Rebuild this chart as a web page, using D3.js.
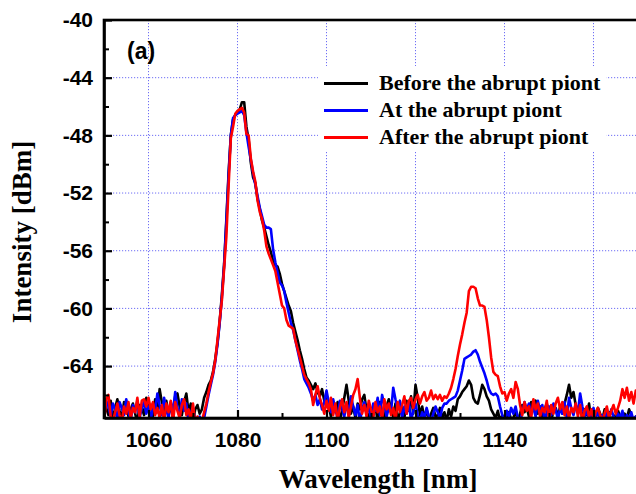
<!DOCTYPE html>
<html>
<head>
<meta charset="utf-8">
<script src="https://cdn.jsdelivr.net/npm/d3@7"></script>
<style>
  body { margin: 0; background: #fff; }
  .tick-label { font-family: "Liberation Sans", Arial, sans-serif; font-weight: bold; font-size: 21px; fill: #000; }
  .axis-title { font-family: "Liberation Serif", "Times New Roman", serif; font-weight: bold; font-size: 27px; fill: #000; }
  .legend-text { font-family: "Liberation Serif", "Times New Roman", serif; font-weight: bold; font-size: 22px; fill: #000; }
</style>
</head>
<body>
<div id="chart"></div>
<script>
var wavelength = d3.range(1050, 1170.001, 0.5);

var seriesNames = ["Before the abrupt piont", "At the abrupt piont", "After the abrupt piont"];
var seriesColors = ["#000000", "#0000ff", "#ff0000"];

var xTicks = [1060, 1080, 1100, 1120, 1140, 1160];
var yTicks = [-40, -44, -48, -52, -56, -60, -64];

var before = [
  // 1050 - 1071.5
  -66.2, -66.9, -67.4, -66.4, -67.8, -66.9, -66.3, -67.1, -67.6, -66.5,
  -66.8, -67.5, -67.0, -66.6, -67.3, -67.9, -66.7, -66.9, -67.4, -66.2,
  -67.0, -66.7, -67.5, -66.3, -67.2, -65.6, -66.5, -67.1, -66.4, -67.3,
  -66.8, -67.6, -66.1, -65.9, -66.8, -67.4, -66.5, -65.9, -67.2, -66.6,
  -67.8, -67.0, -66.7, -67.3,
  // 1072 - 1099.5
  -67.0, -66.2, -65.8, -65.3, -65.0, -64.4, -63.5, -62.4, -60.9, -59.0,
  -56.9, -53.8, -50.6, -48.0, -46.9, -46.6, -46.4, -46.2, -45.7, -45.7,
  -47.4, -48.3, -49.9, -50.9, -51.3, -52.4, -53.1, -53.9, -54.4, -55.0,
  -55.6, -56.1, -56.7, -57.0, -57.1, -57.6, -58.3, -58.8, -59.3, -59.8,
  -60.2, -61.0, -61.6, -62.2, -62.9, -63.5, -64.2, -64.8, -65.0, -65.3,
  -65.6, -65.2, -65.8, -66.1, -65.6, -66.4,
  // 1100 - 1124.5
  -66.0, -66.8, -67.5, -66.9, -67.2, -66.5, -67.8, -67.1, -66.2, -65.3,
  -66.4, -67.3, -66.8, -67.6, -66.6, -67.0, -66.3, -66.0, -67.1, -67.7,
  -66.9, -67.4, -66.7, -67.9, -66.5, -67.2, -67.6, -66.8, -66.3, -67.0,
  -67.5, -66.6, -67.8, -67.2, -66.9, -67.6, -66.4, -67.1, -66.1, -67.3,
  -65.3, -66.2, -67.4, -66.8, -67.6, -67.0, -67.8, -67.3, -66.9, -67.5,
  // 1125 - 1141.5
  -67.4, -66.9, -67.6, -67.2, -67.8, -67.0, -67.5, -66.8, -67.1, -66.3,
  -66.1, -65.8, -65.6, -65.4, -65.0, -65.3, -66.2, -66.5, -66.6, -66.0,
  -65.3, -65.6, -66.1, -66.4, -67.0, -67.3, -67.6, -67.1, -67.8, -67.4,
  -67.9, -67.5, -67.2, -67.7,
  // 1142 - 1170
  -67.6, -67.1, -67.8, -67.3, -66.7, -67.2, -66.9, -67.5, -66.5, -67.0,
  -66.4, -67.3, -66.8, -67.6, -67.0, -66.6, -67.4, -67.8, -67.1, -66.9,
  -67.5, -66.8, -67.3, -66.6, -66.0, -65.3, -66.2, -65.8, -66.7, -67.2,
  -66.9, -67.6, -67.0, -67.4, -66.6, -67.8, -67.2, -67.5, -66.9, -67.3,
  -67.7, -67.0, -67.6, -67.2, -67.9, -67.4, -67.7, -67.1, -67.5, -67.8,
  -67.3, -67.6, -67.0, -67.4, -67.8, -67.5, -67.7
];

var at = [
  // 1050 - 1071.5
  -67.3, -66.4, -66.8, -67.5, -66.6, -67.0, -67.7, -66.5, -66.9, -67.4,
  -66.3, -67.1, -67.8, -66.7, -67.2, -66.4, -67.6, -66.9, -66.5, -67.3,
  -66.8, -67.9, -66.6, -67.1, -65.9, -66.7, -67.4, -66.2, -67.0, -67.6,
  -66.5, -67.2, -65.8, -66.9, -67.5, -66.3, -67.1, -66.6, -67.8, -67.2,
  -66.9, -67.7, -68.0, -67.5,
  // 1072 - 1099.5
  -68.0, -67.6, -66.8, -66.0, -65.3, -64.6, -63.7, -62.5, -61.0, -59.2,
  -57.0, -54.0, -50.8, -48.0, -46.8, -46.6, -46.5, -46.4, -46.3, -46.6,
  -47.8, -48.8, -49.7, -50.6, -51.4, -52.2, -53.0, -53.6, -54.2, -54.4,
  -54.4, -54.5, -55.9, -56.8, -57.5, -58.2, -58.4, -58.8, -59.6, -60.3,
  -61.0, -61.5, -62.2, -62.9, -63.6, -64.2, -64.9, -65.2, -65.5, -65.9,
  -66.4, -66.0, -66.7, -66.3, -67.0, -66.5,
  // 1100 - 1124.5
  -65.7, -66.5, -67.2, -66.3, -67.0, -67.6, -66.4, -66.9, -67.5, -66.6,
  -67.3, -66.1, -66.8, -67.4, -66.7, -67.9, -67.0, -66.5, -67.3, -66.8,
  -67.6, -66.6, -67.1, -66.2, -67.4, -66.0, -66.7, -67.5, -66.9, -67.2,
  -65.5, -66.3, -67.0, -66.4, -67.6, -66.8, -67.3, -66.5, -67.8, -67.1,
  -66.6, -67.4, -67.8, -67.2, -67.6, -66.9, -67.5, -67.9, -67.3, -66.8,
  // 1125 - 1141.5
  -67.2, -67.6, -66.9, -66.6, -66.6, -66.4, -66.3, -66.2, -66.1, -65.7,
  -65.0, -64.3, -63.5, -63.4, -63.3, -63.2, -63.0, -62.9, -63.2, -63.7,
  -64.1, -64.5, -65.0, -65.6, -65.9, -66.0, -65.9, -66.1, -66.8, -67.4,
  -67.8, -67.1, -67.5, -66.9,
  // 1142 - 1170
  -67.3, -66.8, -67.6, -67.9, -67.2, -66.5, -67.0, -66.6, -67.3, -66.9,
  -67.5, -66.4, -67.1, -66.7, -67.8, -67.2, -66.8, -67.4, -66.6, -67.0,
  -67.7, -66.9, -67.3, -66.5, -67.6, -66.2, -66.9, -67.4, -66.7, -67.2,
  -65.9, -66.8, -67.5, -67.0, -67.8, -67.3, -66.9, -67.6, -67.1, -67.8,
  -67.4, -67.9, -67.2, -67.6, -67.0, -67.5, -67.8, -67.3, -67.6, -67.1,
  -67.9, -67.4, -67.7, -67.2, -67.8, -67.5, -67.6
];

var after = [
  // 1050 - 1071.5
  -67.9, -66.3, -66.0, -67.5, -67.8, -67.2, -66.6, -67.4, -67.9, -66.8,
  -67.3, -66.5, -67.6, -66.9, -67.2, -66.2, -67.5, -66.4, -66.3, -66.8,
  -66.2, -67.0, -66.5, -67.4, -66.9, -67.6, -66.7, -67.8, -66.6, -67.2,
  -66.4, -67.9, -66.5, -67.1, -67.6, -66.7, -66.3, -67.4, -67.0, -67.8,
  -66.6, -68.0, -67.5, -68.0,
  // 1072 - 1099.5
  -67.8, -67.2, -66.6, -65.8, -65.1, -64.5, -63.6, -62.2, -60.8, -59.4,
  -57.2, -55.0, -51.5, -48.2, -47.4, -46.5, -46.3, -46.2, -46.1, -46.4,
  -47.9, -48.0, -49.6, -50.5, -51.2, -52.5, -53.3, -53.8, -54.6, -55.7,
  -56.2, -56.6, -57.0, -57.4, -58.2, -59.0, -59.8, -60.0, -60.8, -61.2,
  -61.3, -61.4, -62.2, -62.8, -63.4, -64.0, -64.6, -64.9, -65.2, -65.6,
  -66.7, -66.0, -65.4, -66.2, -66.7, -67.3,
  // 1100 - 1124.5
  -66.4, -67.1, -66.2, -67.4, -66.6, -67.8, -66.9, -66.3, -67.2, -66.5,
  -67.6, -66.8, -66.0, -65.6, -64.9, -66.2, -67.3, -66.7, -67.5, -66.4,
  -67.0, -67.6, -66.5, -67.2, -66.8, -67.7, -66.3, -67.0, -66.6, -67.4,
  -66.9, -67.8, -66.5, -67.2, -66.7, -66.1, -67.3, -66.4, -66.2, -66.9,
  -66.3, -66.0, -66.6, -66.1, -65.8, -66.4, -66.2, -65.7, -66.3, -66.0,
  // 1125 - 1141.5
  -66.3, -66.0, -66.4, -66.1, -66.2, -65.9, -65.5, -64.9, -64.2, -63.3,
  -62.5, -61.8, -61.0, -60.3, -58.8, -58.5, -58.5, -58.6, -59.3, -59.8,
  -59.8, -59.9, -60.8, -62.0, -63.4, -64.4, -64.6, -64.7, -65.4, -65.9,
  -65.8, -66.4, -65.9, -65.6,
  // 1142 - 1170
  -66.2, -65.1, -65.6, -66.7, -67.4, -66.5, -67.1, -66.8, -67.6, -66.3,
  -67.0, -66.6, -67.5, -66.9, -67.2, -66.4, -67.8, -66.7, -67.3, -66.6,
  -66.2, -67.0, -66.5, -67.4, -66.8, -67.6, -66.9, -67.2, -66.6, -67.5,
  -66.7, -67.9, -67.1, -66.8, -67.5, -67.0, -67.7, -67.2, -66.9, -67.4,
  -67.8, -67.3, -66.8, -67.6, -67.1, -66.7, -67.3, -66.9, -66.4, -65.6,
  -66.2, -65.5, -66.4, -65.8, -66.6, -65.7, -66.3
];

var seriesValues = [before, at, after];

// size of the picture and of the plot box
var width = 636;
var height = 494;
var margin = { top: 20, right: -2, bottom: 76, left: 104 };
var plotW = width - margin.left - margin.right;
var plotH = height - margin.top - margin.bottom;

var x = d3.scaleLinear().domain([1050, 1170]).range([0, plotW]);
var y = d3.scaleLinear().domain([-67.6, -40]).range([plotH, 0]);

var svg = d3.select('#chart')
  .append('svg')
  .attr('width', width)
  .attr('height', height);

var g = svg.append('g')
  .attr('transform', 'translate(' + margin.left + ',' + margin.top + ')');

// dotted blue grid at the major ticks
g.selectAll('.vgrid')
  .data(xTicks)
  .enter()
  .append('line')
  .attr('x1', function (d) { return x(d); })
  .attr('x2', function (d) { return x(d); })
  .attr('y1', 0)
  .attr('y2', plotH)
  .attr('stroke', '#6f6ff5')
  .attr('stroke-width', 1)
  .attr('stroke-dasharray', '1.2,1.8');

g.selectAll('.hgrid')
  .data(yTicks)
  .enter()
  .append('line')
  .attr('x1', 0)
  .attr('x2', plotW)
  .attr('y1', function (d) { return y(d); })
  .attr('y2', function (d) { return y(d); })
  .attr('stroke', '#6f6ff5')
  .attr('stroke-width', 1)
  .attr('stroke-dasharray', '1.2,1.8');

// legend box hides the grid behind it
g.append('rect')
  .attr('x', 318 - margin.left)
  .attr('y', 66 - margin.top)
  .attr('width', 288)
  .attr('height', 86)
  .attr('fill', '#fff');

// spectra, clipped to the plot area
svg.append('clipPath')
  .attr('id', 'plot-clip')
  .append('rect')
  .attr('width', plotW)
  .attr('height', plotH);

var line = d3.line()
  .x(function (d, i) { return x(wavelength[i]); })
  .y(function (d) { return y(d); });

g.append('g')
  .attr('clip-path', 'url(#plot-clip)')
  .selectAll('path')
  .data(seriesValues)
  .enter()
  .append('path')
  .attr('d', line)
  .attr('fill', 'none')
  .attr('stroke', function (d, i) { return seriesColors[i]; })
  .attr('stroke-width', 2.6)
  .attr('stroke-linejoin', 'round');

// axes with inward ticks, minor ticks halfway
var xMinor = d3.range(1050, 1171, 10).filter(function (d) { return xTicks.indexOf(d) < 0; });
var yMinor = d3.range(-66, -39, 2).filter(function (d) { return yTicks.indexOf(d) < 0; });

var xAxis = g.append('g')
  .attr('transform', 'translate(0,' + plotH + ')')
  .call(d3.axisBottom(x).tickValues(xTicks).tickSizeInner(-8).tickSizeOuter(0).tickPadding(14)
    .tickFormat(d3.format('d')));
xAxis.selectAll('.tick line').attr('stroke-width', 2.2);
xAxis.selectAll('text').attr('class', 'tick-label').attr('font-size', null).attr('font-family', null);

g.append('g')
  .attr('transform', 'translate(0,' + plotH + ')')
  .call(d3.axisBottom(x).tickValues(xMinor).tickSizeInner(-5).tickSizeOuter(0).tickFormat(''))
  .call(function (s) { s.select('.domain').remove(); s.selectAll('.tick line').attr('stroke-width', 2); });

var yAxis = g.append('g')
  .call(d3.axisLeft(y).tickValues(yTicks).tickSizeInner(-8).tickSizeOuter(0).tickPadding(11)
    .tickFormat(function (d) { return d3.format('d')(d).replace('\u2212', '-'); }));
yAxis.selectAll('.tick line').attr('stroke-width', 2.2);
yAxis.selectAll('text').attr('class', 'tick-label').attr('font-size', null).attr('font-family', null);

g.append('g')
  .call(d3.axisLeft(y).tickValues(yMinor).tickSizeInner(-5).tickSizeOuter(0).tickFormat(''))
  .call(function (s) { s.select('.domain').remove(); s.selectAll('.tick line').attr('stroke-width', 2); });

// frame: left, bottom and top edges
g.append('rect')
  .attr('width', plotW)
  .attr('height', plotH)
  .attr('fill', 'none')
  .attr('stroke', '#000')
  .attr('stroke-width', 2.6);
g.selectAll('.domain').attr('stroke-width', 2.6);

// axis titles
svg.append('text')
  .attr('class', 'axis-title')
  .attr('x', 378)
  .attr('y', 488)
  .attr('text-anchor', 'middle')
  .text('Wavelength [nm]');

svg.append('text')
  .attr('class', 'axis-title')
  .attr('transform', 'translate(31,232) rotate(-90)')
  .attr('text-anchor', 'middle')
  .text('Intensity [dBm]');

// panel label
svg.append('text')
  .attr('x', 127)
  .attr('y', 59)
  .attr('font-family', '"Liberation Sans", Arial, sans-serif')
  .attr('font-weight', 'bold')
  .attr('font-size', 23)
  .text('(a)');

// legend
var legend = svg.selectAll('.legend')
  .data(seriesNames)
  .enter()
  .append('g')
  .attr('class', 'legend')
  .attr('transform', function (d, i) { return 'translate(324,' + (90 + i * 27) + ')'; });

legend.append('line')
  .attr('x1', 0)
  .attr('x2', 44)
  .attr('y1', -6.5)
  .attr('y2', -6.5)
  .attr('stroke', function (d, i) { return seriesColors[i]; })
  .attr('stroke-width', 3);

legend.append('text')
  .attr('class', 'legend-text')
  .attr('x', 55)
  .attr('y', 0)
  .text(function (d) { return d; });
</script>
</body>
</html>
